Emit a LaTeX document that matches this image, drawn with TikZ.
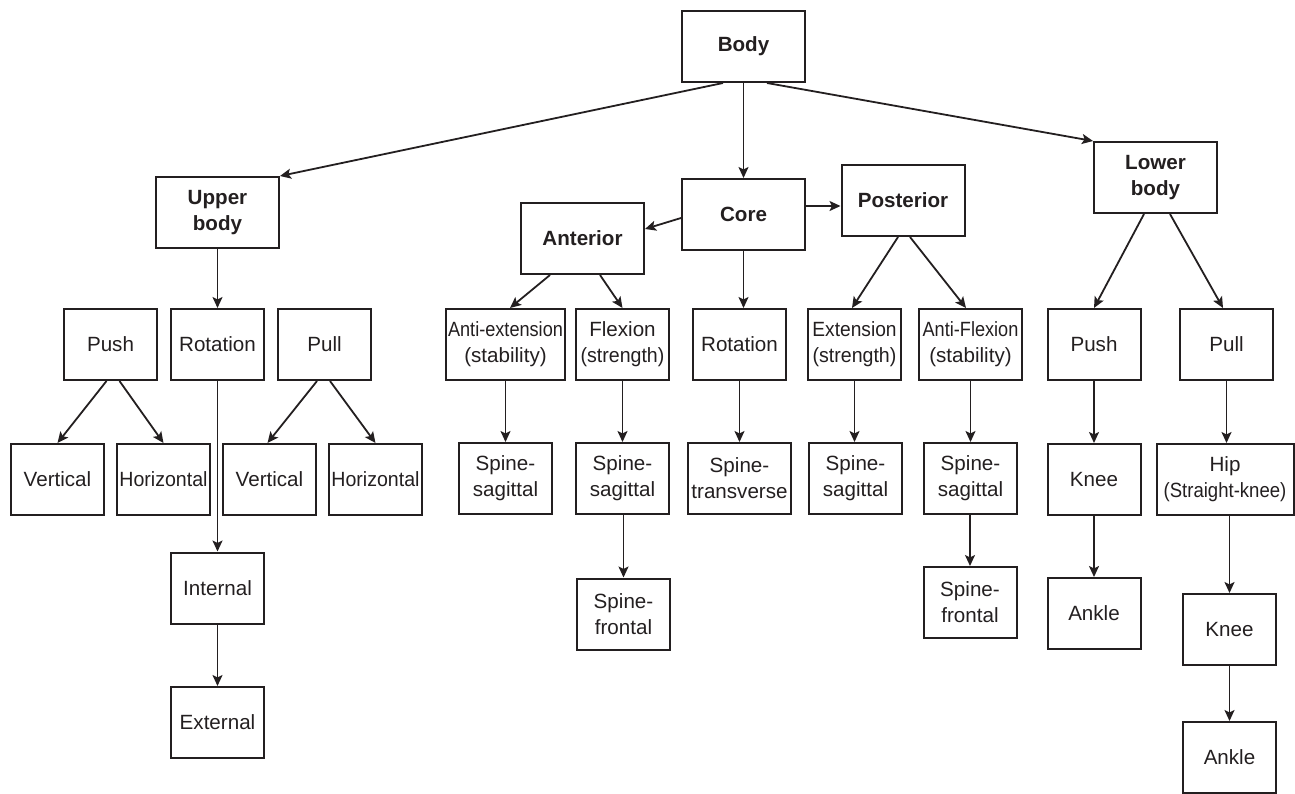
\documentclass[tikz,border=0pt]{standalone}
\usepackage{fontspec}
\usepackage{graphicx}
\setmainfont{Liberation Sans}
\usetikzlibrary{arrows.meta}
\definecolor{ink}{HTML}{231F20}
\newcommand{\squeeze}[2][0.88]{\scalebox{#1}[1]{#2}}
\tikzset{
	box/.style={draw=ink, text=ink, line width=1pt, minimum width=46.5pt, minimum height=35.5pt,
		inner sep=1pt, align=center, font=\fontsize{10.3}{13}\selectfont},
	head/.style={box, minimum width=61.5pt, font=\bfseries\fontsize{10.3}{13}\selectfont},
	link/.style={draw=ink, -{Stealth[length=5.5pt,width=5pt,inset=1.2pt]}, line width=0.9pt}
}
\begin{document}
\begin{tikzpicture}[x=0.5pt,y=-0.5pt]
	\useasboundingbox (0,0) rectangle (1295,793);
	% top level
	\node[head] (body) at (743.5,46.5) {Body};
	\node[head] (upper) at (217.5,212.5) {Upper\\body};
	\node[head] (core) at (743.5,214.5) {Core};
	\node[head] (anterior) at (582.5,238.5) {Anterior};
	\node[head] (posterior) at (903,200.5) {Posterior};
	\node[head] (lower) at (1155.5,177.5) {Lower\\body};
	\draw[link] ([xshift=-10.25pt]body.south) -- (upper.north east);
	\draw[link] (body) -- (core);
	\draw[link] ([xshift=11.75pt]body.south) -- (lower.north west);
	\draw[link] ([yshift=-1.75pt]core.west) -- ([yshift=4.75pt]anterior.east);
	\draw[link] ([yshift=4.25pt]core.east) -- ([yshift=-2.75pt]posterior.west);
	% upper body
	\node[box] (upush) at (110.5,344.5) {Push};
	\node[box] (urot) at (217.5,344.5) {Rotation};
	\node[box] (upull) at (324.5,344.5) {Pull};
	\node[box] (uvert) at (57.5,479.5) {Vertical};
	\node[box] (uhor) at (163.5,479.5) {\squeeze[0.95]{Horizontal}};
	\node[box] (pvert) at (269.5,479.5) {Vertical};
	\node[box] (phor) at (375.5,479.5) {\squeeze[0.95]{Horizontal}};
	\node[box] (internal) at (217.5,588) {Internal};
	\node[box] (external) at (217.5,722.5) {External};
	\draw[link] (upper) -- (urot);
	\draw[link] ([xshift=-2pt]upush.south) -- (uvert.north);
	\draw[link] ([xshift=4.5pt]upush.south) -- (uhor.north);
	\draw[link] ([xshift=-3.75pt]upull.south) -- ([xshift=-1pt]pvert.north);
	\draw[link] ([xshift=2.75pt]upull.south) -- (phor.north);
	\draw[link] (urot) -- (internal);
	\draw[link] (internal) -- (external);
	% core
	\node[box, minimum width=59.5pt] (antiext) at (505.5,344.5) {\squeeze{Anti-extension}\\(stability)};
	\node[box] (flexion) at (622.5,344.5) {Flexion\\\squeeze[0.95]{(strength)}};
	\node[box] (crot) at (739.5,344.5) {Rotation};
	\node[box] (extension) at (854.5,344.5) {\squeeze[0.93]{Extension}\\\squeeze[0.95]{(strength)}};
	\node[box, minimum width=51.5pt] (antiflex) at (970.5,344.5) {\squeeze{Anti-Flexion}\\(stability)};
	\node[box] (sagone) at (505.5,478.5) {Spine-\\sagittal};
	\node[box] (sagtwo) at (622.5,478.5) {Spine-\\sagittal};
	\node[box, minimum width=51.5pt] (transverse) at (739.5,478.5) {Spine-\\transverse};
	\node[box] (sagthree) at (855.5,478.5) {Spine-\\sagittal};
	\node[box] (sagfour) at (970.5,478.5) {Spine-\\sagittal};
	\node[box] (frontone) at (623.5,614) {Spine-\\frontal};
	\node[box] (fronttwo) at (970,602.5) {Spine-\\frontal};
	\draw[link] ([xshift=-16.25pt]anterior.south) -- ([xshift=2.25pt]antiext.north);
	\draw[link] ([xshift=8.75pt]anterior.south) -- (flexion.north);
	\draw[link] (core.south) -- (core.south |- crot.north);
	\draw[link] ([xshift=-2.5pt]posterior.south) -- ([xshift=-1.25pt]extension.north);
	\draw[link] ([xshift=3.5pt]posterior.south) -- ([xshift=-2.25pt]antiflex.north);
	\draw[link] (antiext) -- (sagone);
	\draw[link] (flexion) -- (sagtwo);
	\draw[link] (crot) -- (transverse);
	\draw[link] (extension) -- (extension |- sagthree.north);
	\draw[link] (antiflex) -- (sagfour);
	\draw[link] (sagtwo.south -| frontone) -- (frontone);
	\draw[link] (sagfour.south -| fronttwo) -- (fronttwo);
	% lower body
	\node[box] (lpush) at (1094,344.5) {Push};
	\node[box] (lpull) at (1226.5,344.5) {Pull};
	\node[box] (kneeone) at (1094,479.5) {Knee};
	\node[box, minimum width=68.5pt] (hip) at (1225,479.5) {Hip\\\squeeze[0.9]{(Straight-knee)}};
	\node[box] (ankleone) at (1094,613.5) {Ankle};
	\node[box] (kneetwo) at (1229.5,629.5) {Knee};
	\node[box] (ankletwo) at (1229.5,757.5) {Ankle};
	\draw[link] ([xshift=-5.75pt]lower.south) -- (lpush.north);
	\draw[link] ([xshift=7.25pt]lower.south) -- ([xshift=-1.75pt]lpull.north);
	\draw[link] (lpush) -- (kneeone);
	\draw[link] (kneeone) -- (ankleone);
	\draw[link] (lpull) -- (lpull |- hip.north);
	\draw[link] (hip.south -| kneetwo) -- (kneetwo);
	\draw[link] (kneetwo) -- (ankletwo);
\end{tikzpicture}
\end{document}
